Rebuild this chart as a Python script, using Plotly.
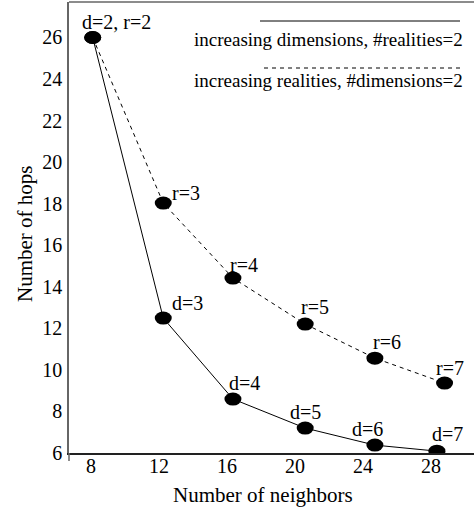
import plotly.graph_objects as go

# Number of neighbors / hops when increasing dimensions (#realities = 2)
dim_neighbors = [8.1, 12.25, 16.35, 20.6, 24.7, 28.35]
dim_hops = [26.0, 12.48, 8.58, 7.18, 6.36, 6.07]
dim_labels = ["d=2, r=2", "d=3", "d=4", "d=5", "d=6", "d=7"]

# Number of neighbors / hops when increasing realities (#dimensions = 2)
real_neighbors = [8.1, 12.25, 16.35, 20.6, 24.7, 28.8]
real_hops = [26.0, 18.02, 14.41, 12.19, 10.55, 9.35]
real_labels = ["", "r=3", "r=4", "r=5", "r=6", "r=7"]

x_ticks = [8, 12, 16, 20, 24, 28]
y_ticks = [6, 8, 10, 12, 14, 16, 18, 20, 22, 24, 26]

legend_solid = "increasing dimensions, #realities=2"
legend_dashed = "increasing realities, #dimensions=2"

# label offsets (pixels) relative to each point
dim_offsets = [(24, 15), (24, 15), (12, 16), (0, 16), (-7, 16), (11, 17)]
real_offsets = [(0, 0), (23, 10), (11, 13), (10, 17), (12, 16), (5, 15)]

W, H = 474, 512
ML, MT, MB, MR = 69, 2, 59, 0
PW, PH = W - ML - MR, H - MT - MB
FONT = "Liberation Serif, Times New Roman, serif"


def px(xp):
    return (xp - ML) / PW


def py(yp):
    return (H - MB - yp) / PH


fig = go.Figure()
fig.add_trace(go.Scatter(x=dim_neighbors, y=dim_hops, mode="lines",
                         line=dict(color="black", width=1), showlegend=False))
fig.add_trace(go.Scatter(x=real_neighbors, y=real_hops, mode="lines",
                         line=dict(color="black", width=1, dash="4px,4px"),
                         showlegend=False))

shapes = []
# filled elliptical point markers anchored at each data value
for xs, ys in ((dim_neighbors, dim_hops), (real_neighbors, real_hops)):
    for xv, yv in zip(xs, ys):
        shapes.append(dict(type="circle", xref="x", yref="y",
                           xsizemode="pixel", ysizemode="pixel",
                           xanchor=xv, yanchor=yv,
                           x0=-8.5, x1=8.5, y0=-6.5, y1=6.5,
                           fillcolor="black", line=dict(color="black", width=0)))

# top border of the frame
shapes.append(dict(type="line", xref="paper", yref="paper", x0=0, x1=1, y0=1, y1=1,
                   line=dict(color="#666", width=1.5)))
# small downward extension of the left border
shapes.append(dict(type="line", xref="paper", yref="paper", x0=0, x1=0,
                   y0=py(453), y1=py(461), line=dict(color="#666", width=1.5)))
# legend samples
shapes.append(dict(type="line", xref="paper", yref="paper", x0=px(260), x1=px(460),
                   y0=py(21), y1=py(21), line=dict(color="black", width=1)))
shapes.append(dict(type="line", xref="paper", yref="paper", x0=px(264), x1=px(460),
                   y0=py(68), y1=py(68), line=dict(color="black", width=1, dash="4px,4px")))

annotations = []
for xs, ys, labs, offs in ((dim_neighbors, dim_hops, dim_labels, dim_offsets),
                           (real_neighbors, real_hops, real_labels, real_offsets)):
    for xv, yv, lab, (dx, dy) in zip(xs, ys, labs, offs):
        if lab:
            annotations.append(dict(x=xv, y=yv, xref="x", yref="y", text=lab,
                                    showarrow=False, xshift=dx, yshift=dy,
                                    xanchor="center", yanchor="middle",
                                    font=dict(family=FONT, size=20, color="black")))

annotations.append(dict(x=px(465), y=py(40), xref="paper", yref="paper",
                        text=legend_solid, showarrow=False, xanchor="right",
                        yanchor="middle", font=dict(family=FONT, size=19, color="black")))
annotations.append(dict(x=px(465), y=py(80), xref="paper", yref="paper",
                        text=legend_dashed, showarrow=False, xanchor="right",
                        yanchor="middle", font=dict(family=FONT, size=19, color="black")))

# axis titles
annotations.append(dict(x=px(263), y=py(495), xref="paper", yref="paper",
                        text="Number of neighbors", showarrow=False,
                        xanchor="center", yanchor="middle",
                        font=dict(family=FONT, size=21, color="black")))
annotations.append(dict(x=px(25), y=py(234), xref="paper", yref="paper",
                        text="Number of hops", showarrow=False, textangle=-90,
                        xanchor="center", yanchor="middle",
                        font=dict(family=FONT, size=21, color="black")))

fig.update_layout(
    width=W, height=H,
    margin=dict(l=ML, r=MR, t=MT, b=MB, pad=0),
    paper_bgcolor="white", plot_bgcolor="white",
    shapes=shapes, annotations=annotations,
    showlegend=False,
    xaxis=dict(range=[6.706, 30.53], tickvals=x_ticks, ticktext=[str(v) for v in x_ticks],
               showgrid=False, zeroline=False, showline=True, linecolor="#222", linewidth=1.5,
               ticks="", ticklabelstandoff=-6,
               tickfont=dict(family=FONT, size=20, color="black")),
    yaxis=dict(range=[5.98, 27.71], tickvals=y_ticks, ticktext=[str(v) for v in y_ticks],
               showgrid=False, zeroline=False, showline=True, linecolor="#666", linewidth=1.5,
               ticks="", ticklabelstandoff=1,
               tickfont=dict(family=FONT, size=20, color="black")),
)

fig.write_html("out.html")
